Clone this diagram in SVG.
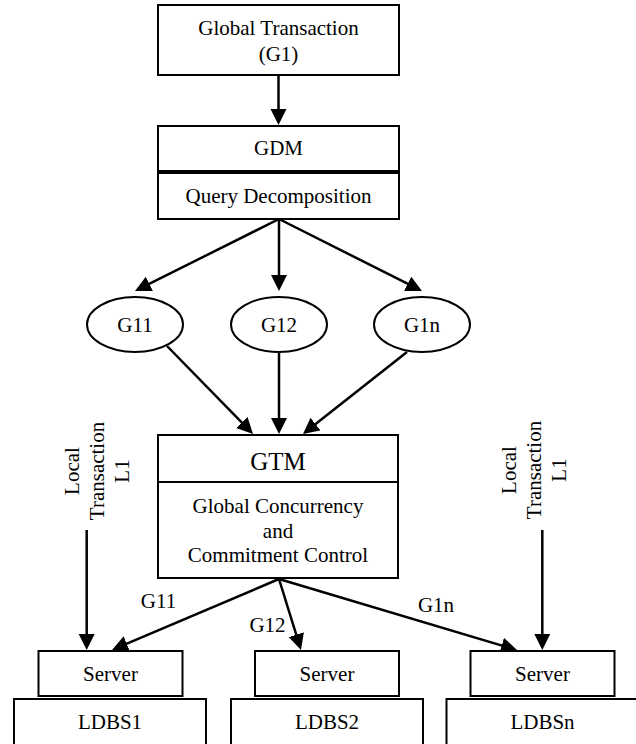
<svg xmlns="http://www.w3.org/2000/svg" width="636" height="744" viewBox="0 0 636 744">
<style>
.box{fill:#fff;stroke:#000;stroke-width:2}
text{font-family:'Liberation Serif','Times New Roman',Times,'DejaVu Serif',serif;font-size:21px;fill:#000;text-anchor:middle}
.big{font-size:25px}
.ln{stroke:#000;stroke-width:2.5;fill:none;marker-end:url(#ah)}
</style>
<defs>
<marker id="ah" markerUnits="userSpaceOnUse" markerWidth="18" markerHeight="18" refX="12" refY="8" orient="auto">
<path d="M0,0 L16,8 L0,16 z" fill="#000"/>
</marker>
</defs>
<rect width="636" height="744" fill="#fff"/>
<g id="connectors">
<line class="ln" x1="278.5" y1="75" x2="278.5" y2="121"/>
<line class="ln" x1="279" y1="219" x2="138.6" y2="289.2"/>
<line class="ln" x1="279" y1="219" x2="279" y2="287"/>
<line class="ln" x1="279" y1="219" x2="418.4" y2="289.2"/>
<line class="ln" x1="167" y1="346" x2="250.2" y2="431.1"/>
<line class="ln" x1="279" y1="352" x2="279" y2="430"/>
<line class="ln" x1="407" y1="352" x2="306.1" y2="431.5"/>
<line class="ln" x1="279" y1="579" x2="115.7" y2="648.4"/>
<line class="ln" x1="279" y1="579" x2="299.8" y2="646.2"/>
<line class="ln" x1="279" y1="579" x2="513.2" y2="648.9"/>
<line class="ln" x1="86.7" y1="530" x2="86.7" y2="646"/>
<line class="ln" x1="542.3" y1="530" x2="542.3" y2="646"/>
<text font-family="Liberation Serif, serif" x="158.5" y="608">G11</text>
<text font-family="Liberation Serif, serif" x="267.5" y="632">G12</text>
<text font-family="Liberation Serif, serif" x="436" y="612">G1n</text>
<text font-family="Liberation Serif, serif" transform="translate(78.5,471) rotate(-90)"><tspan x="0" dy="0">Local</tspan><tspan x="0" dy="25">Transaction</tspan><tspan x="0" dy="25">L1</tspan></text>
<text font-family="Liberation Serif, serif" transform="translate(516,470) rotate(-90)"><tspan x="0" dy="0">Local</tspan><tspan x="0" dy="25">Transaction</tspan><tspan x="0" dy="25">L1</tspan></text>
</g>
<g id="global-transaction">
<rect class="box" x="158" y="5" width="241" height="70"/>
<text x="278.5" y="35">Global Transaction</text>
<text x="278.5" y="61">(G1)</text>
</g>
<g id="gdm">
<rect class="box" x="158" y="126" width="241" height="45"/>
<text x="278.5" y="155">GDM</text>
</g>
<g id="query-decomposition">
<rect class="box" x="158" y="173" width="241" height="46"/>
<text x="278.5" y="203">Query Decomposition</text>
</g>
<g id="g11">
<ellipse class="box" cx="135" cy="324.5" rx="48" ry="27.5"/>
<text x="135" y="332">G11</text>
</g>
<g id="g12">
<ellipse class="box" cx="279" cy="324.5" rx="48" ry="27.5"/>
<text x="279" y="332">G12</text>
</g>
<g id="g1n">
<ellipse class="box" cx="422" cy="324.5" rx="48" ry="27.5"/>
<text x="422" y="332">G1n</text>
</g>
<g id="gtm">
<rect class="box" x="158" y="435" width="240" height="143"/>
<line x1="158" y1="482" x2="398" y2="482" stroke="#000" stroke-width="2"/>
<text class="big" x="278" y="470">GTM</text>
<text x="278" y="512.5">Global Concurrency</text>
<text x="278" y="537.5">and</text>
<text x="278" y="562">Commitment Control</text>
</g>
<g id="server1">
<rect class="box" x="38.5" y="651" width="144" height="45"/>
<text x="110.5" y="681">Server</text>
</g>
<g id="ldbs1">
<rect class="box" x="14" y="699" width="192" height="55"/>
<text x="110" y="729">LDBS1</text>
</g>
<g id="server2">
<rect class="box" x="255" y="651" width="144" height="45"/>
<text x="327" y="681">Server</text>
</g>
<g id="ldbs2">
<rect class="box" x="231" y="699" width="192" height="55"/>
<text x="327" y="729">LDBS2</text>
</g>
<g id="servern">
<rect class="box" x="470.5" y="651" width="144" height="45"/>
<text x="542.5" y="681">Server</text>
</g>
<g id="ldbsn">
<rect class="box" x="446.5" y="699" width="192" height="55"/>
<text x="542.5" y="729">LDBSn</text>
</g>
</svg>
